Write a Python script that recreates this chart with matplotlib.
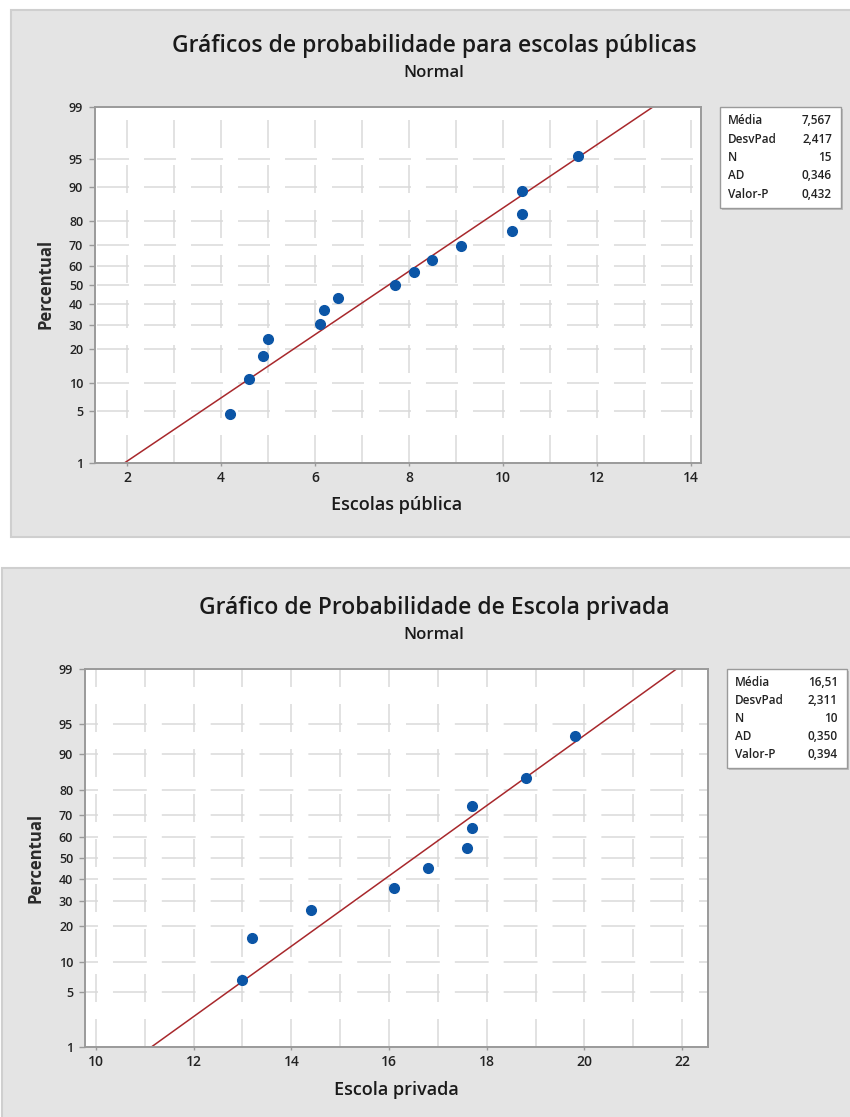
import math
import matplotlib
matplotlib.use("Agg")
import matplotlib.pyplot as plt
from matplotlib.patches import Rectangle
from statistics import NormalDist, mean, stdev

plt.rcParams['font.family'] = ['Open Sans', 'Noto Sans', 'DejaVu Sans']
plt.rcParams['lines.scale_dashes'] = False

W, H, DPI = 850, 1117, 100

# dados das duas amostras
escolas_publicas = [4.2, 4.6, 4.9, 5.0, 6.1, 6.2, 6.5, 7.7, 8.1, 8.5, 9.1, 10.2, 10.4, 10.4, 11.6]
escolas_privadas = [13.0, 13.2, 14.4, 16.1, 16.8, 17.6, 17.7, 17.7, 18.8, 19.8]

# estatísticas de Anderson-Darling informadas na legenda
ad_publicas, p_publicas = 0.346, 0.432
ad_privadas, p_privadas = 0.350, 0.394

pct_ticks = [1, 5, 10, 20, 30, 40, 50, 60, 70, 80, 90, 95, 99]
xticks_publicas = [2, 4, 6, 8, 10, 12, 14]
xticks_privadas = [10, 12, 14, 16, 18, 20, 22]

AZUL = '#0b55a6'
VERMELHO = '#a8282c'
GRADE = '#dadada'
FUNDO = '#e4e4e4'
BORDA = '#9a9a9a'
TEXTO = '#1a1a1a'

nd = NormalDist()


def z(p):
    return nd.inv_cdf(p / 100.0)


def fx(x):
    return x / W


def fy(y):
    return 1 - y / H


def virgula(v, casas):
    return f"{v:.{casas}f}".replace('.', ',')


fig = plt.figure(figsize=(W / DPI, H / DPI), dpi=DPI)
fig.patch.set_facecolor('white')


def painel(dados, fundo, eixo, xlim, xticks, titulo, y_titulo, xlabel, pos_xlabel,
           pos_ylabel, ad, pval, caixa):
    # fundo cinza do painel
    x0, y0, x1, y1 = fundo
    fig.add_artist(Rectangle((fx(x0), fy(y1)), (x1 - x0) / W, (y1 - y0) / H,
                             transform=fig.transFigure, facecolor=FUNDO,
                             edgecolor='#cfcfcf', lw=1.5, zorder=0))

    l, t, r, b = eixo
    ax = fig.add_axes([fx(l), fy(b), (r - l) / W, (b - t) / H])
    ax.set_facecolor('white')
    ylim = (z(1), z(99))
    ax.set_xlim(*xlim)
    ax.set_ylim(*ylim)

    # grade tracejada
    ppu = (r - l) / (xlim[1] - xlim[0])
    k = 72.0 / DPI
    primeira = math.ceil(xlim[0])
    d0 = (primeira - xlim[0]) * ppu
    gap = 15.0
    on = ppu - gap
    off_h = (on - (d0 + 2)) % ppu
    for p in pct_ticks[1:-1]:
        ax.plot(xlim, [z(p), z(p)], color=GRADE, lw=1.1,
                linestyle=(off_h * k, (on * k, gap * k)), zorder=1)
    for xv in range(primeira, math.floor(xlim[1]) + 1):
        ax.plot([xv, xv], ylim, color=GRADE, lw=1.1,
                linestyle=(0, (28 * k, 17 * k)), zorder=1)

    # pontos e reta ajustada
    xs = sorted(dados)
    n = len(xs)
    ps = [(i + 1 - 0.3) / (n + 0.4) * 100 for i in range(n)]
    m, s = mean(xs), stdev(xs)
    ax.plot([m + s * z(1), m + s * z(99)], [z(1), z(99)], color=VERMELHO, lw=1.1, zorder=2)
    ax.plot(xs, [z(p) for p in ps], 'o', color=AZUL, ms=7, mec=AZUL, zorder=3)

    ax.set_yticks([z(p) for p in pct_ticks])
    ax.set_yticklabels([str(p) for p in pct_ticks])
    ax.set_xticks(xticks)
    ax.set_xticklabels([str(v) for v in xticks])
    ax.tick_params(axis='y', length=4, width=1, color=BORDA, pad=4.5,
                   labelsize=9, labelcolor='#222222')
    ax.tick_params(axis='x', length=2.5, width=1, color=BORDA, pad=3,
                   labelsize=10, labelcolor='#222222')
    for lab in ax.get_xticklabels() + ax.get_yticklabels():
        lab.set_fontweight('semibold')
    for sp in ax.spines.values():
        sp.set_color(BORDA)
        sp.set_linewidth(1.4)

    # títulos e rótulos
    cx = 434
    fig.text(fx(cx), fy(y_titulo), titulo, ha='center', va='center',
             fontsize=16.5, fontweight='semibold', color=TEXTO)
    fig.text(fx(cx), fy(y_titulo + 27), 'Normal', ha='center', va='center',
             fontsize=12, fontweight='semibold', color=TEXTO)
    fig.text(fx(pos_xlabel[0]), fy(pos_xlabel[1]), xlabel, ha='center', va='center',
             fontsize=13, fontweight='semibold', color=TEXTO)
    fig.text(fx(pos_ylabel[0]), fy(pos_ylabel[1]), 'Percentual', ha='center', va='center',
             rotation=90, fontsize=12, fontweight='bold', color='#2a2a2a')

    # caixa de estatísticas
    bx0, by0, bx1, by1 = caixa
    fig.add_artist(Rectangle((fx(bx0 + 1.5), fy(by1 + 1.5)), (bx1 - bx0) / W, (by1 - by0) / H,
                             transform=fig.transFigure, facecolor='#bdbdbd',
                             edgecolor='none', zorder=1))
    fig.add_artist(Rectangle((fx(bx0), fy(by1)), (bx1 - bx0) / W, (by1 - by0) / H,
                             transform=fig.transFigure, facecolor='white',
                             edgecolor=BORDA, lw=1.0, zorder=2))
    nomes = ['Média', 'DesvPad', 'N', 'AD', 'Valor-P']
    valores = [virgula(m, 3 if m < 10 else 2), virgula(s, 3), str(n),
               virgula(ad, 3), virgula(pval, 3)]
    passo = (by1 - by0 - 28) / 4.0
    for i, (nome, val) in enumerate(zip(nomes, valores)):
        yy = by0 + 14 + i * passo
        fig.text(fx(bx0 + 8), fy(yy), nome, ha='left', va='center', fontsize=8.5,
                 fontweight='semibold', color='#222222', zorder=3)
        fig.text(fx(bx1 - 9), fy(yy), val, ha='right', va='center', fontsize=8.5,
                 fontweight='semibold', color='#222222', zorder=3)
    return ax


painel(escolas_publicas, (11, 10, 860, 537), (95, 107, 701, 463), (1.319, 14.213),
       xticks_publicas, 'Gráficos de probabilidade para escolas públicas', 46,
       'Escolas pública', (397, 505), (46, 284),
       ad_publicas, p_publicas, (720, 107, 841, 208))

painel(escolas_privadas, (2, 568, 860, 1130), (85, 669, 708, 1047), (9.775, 22.532),
       xticks_privadas, 'Gráfico de Probabilidade de Escola privada', 608,
       'Escola privada', (396, 1090), (35, 858),
       ad_privadas, p_privadas, (727, 669, 847, 768))

fig.savefig('out.png', dpi=DPI, facecolor='white')
